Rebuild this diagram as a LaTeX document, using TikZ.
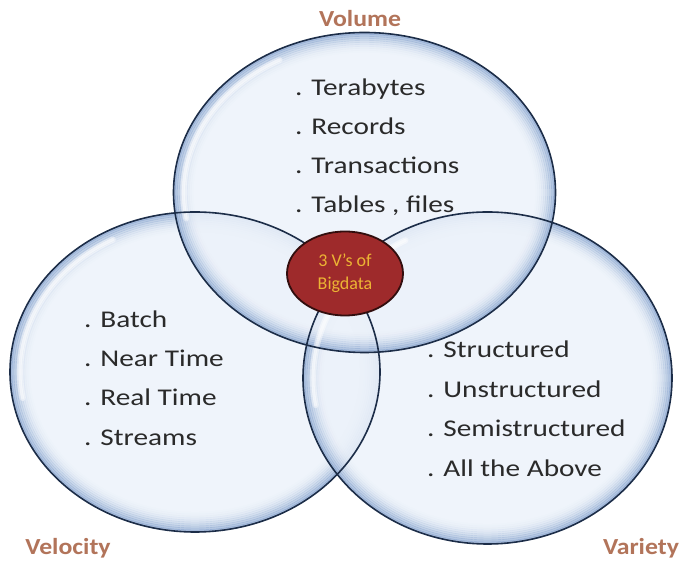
\documentclass[tikz,border=0pt]{standalone}
\usepackage{fontspec}
\setmainfont{Carlito}
\usetikzlibrary{shapes.geometric,positioning}

\definecolor{bubble core}{RGB}{236,242,250}
\definecolor{bubble edge}{RGB}{120,152,200}
\definecolor{bubble line}{RGB}{28,45,72}
\definecolor{core red}{RGB}{158,42,43}
\definecolor{core border}{RGB}{50,14,14}
\definecolor{core text}{RGB}{236,180,52}
\definecolor{item gray}{RGB}{42,42,42}
\definecolor{label brown}{RGB}{178,116,90}

\tikzset{
    bubble fill/.style={fill=bubble core, fill opacity=.85},
    rim/.style={draw=bubble edge, line width=2.4pt, draw opacity=#1},
    bubble outline/.style={draw=bubble line, line width=1.6pt},
    gloss/.style={white, line width=#1, line cap=round, opacity=.45},
    core/.style={ellipse, fill=core red, draw=core border, line width=1.8pt,
        minimum width=116, minimum height=84, inner sep=0pt,
        align=center, text=core text, font=\fontsize{18}{23}\selectfont},
    item/.style={anchor=base west, inner sep=0pt, text=item gray,
        font=\fontsize{24}{28}\selectfont, xscale=1.22},
    vlabel/.style={anchor=base, inner sep=0pt, text=label brown,
        font=\bfseries\fontsize{23}{27}\selectfont, xscale=1.12},
}

\begin{document}
\begin{tikzpicture}[x=1pt,y=1pt]
    \useasboundingbox (0,0) rectangle (686,562);

    % centres of the three bubbles
    \coordinate (vol) at (364.5,369.5);
    \coordinate (vel) at (195,190);
    \coordinate (var) at (487.5,184);

    % glassy bubbles: light fill, blue rim fading inwards, white gloss
    \foreach \c/\rx/\ry in {vel/185/160, var/184.5/166, vol/191/160} {
        \fill[bubble fill] (\c) ellipse [x radius=\rx, y radius=\ry];
        \foreach \k in {0,...,9}
            \draw[rim={0.6*(1-\k/10)^2}] (\c)
                ellipse [x radius=\rx-1-2*\k, y radius=\ry-1-2*\k];
    }
    \foreach \c/\rx/\ry in {vel/185/160, var/184.5/166, vol/191/160}
        \foreach \w in {6pt,3pt}
            \draw[gloss=\w, shift={(\c)}] (118:{\rx-10} and {\ry-10})
                arc [start angle=118, end angle=190, x radius=\rx-10, y radius=\ry-10];
    \foreach \c/\rx/\ry in {vel/185/160, var/184.5/166, vol/191/160}
        \draw[bubble outline] (\c) ellipse [x radius=\rx, y radius=\ry];

    % the three lists
    \foreach \t [count=\i] in {Terabytes, Records, Transactions, {Tables , files}}
        \node[item] (vol-\i) at (295,{505-39*\i}) {. \t};
    \foreach \t [count=\i] in {Batch, Near Time, Real Time, Streams}
        \node[item] (vel-\i) at (84,{274-39.3*\i}) {. \t};
    \foreach \t [count=\i] in {Structured, Unstructured, Semistructured, All the Above}
        \node[item] (var-\i) at (427,{243.5-39.5*\i}) {. \t};

    % middle
    \node[core] (bigdata) at (345,288.5) {3 V's of\\Bigdata};

    % titles
    \node[vlabel] (vol-title) at (360,535) {Volume};
    \node[vlabel] (vel-title) at (68,7) {Velocity};
    \node[vlabel] (var-title) at (641,7) {Variety};
\end{tikzpicture}
\end{document}
